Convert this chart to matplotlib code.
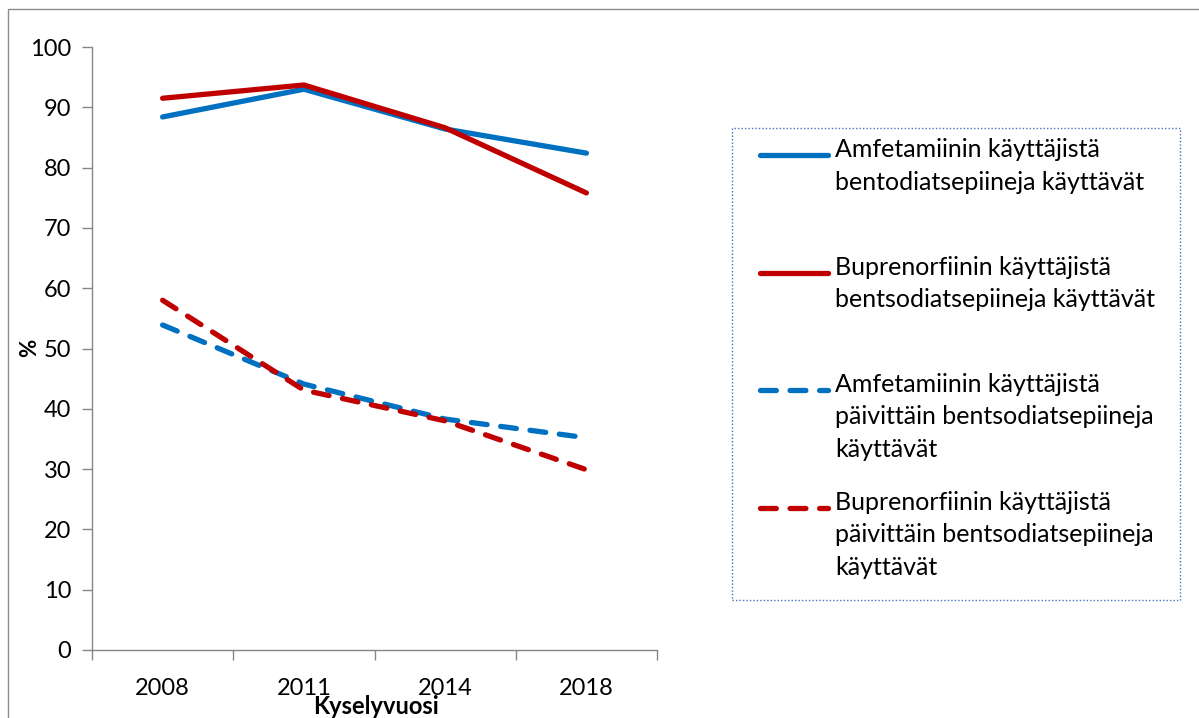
import numpy as np
import matplotlib.pyplot as plt
from matplotlib.patches import Rectangle
from matplotlib.lines import Line2D

plt.rcParams['font.family'] = ['Lato', 'DejaVu Sans']

# kyselyvuodet ja osuudet (%)
vuodet = ['2008', '2011', '2014', '2018']
amf_bentso = [88.4, 93.0, 86.4, 82.4]
bup_bentso = [91.5, 93.7, 86.6, 75.8]
amf_paivittain = [53.9, 44.1, 38.3, 35.2]
bup_paivittain = [58.0, 43.1, 38.0, 29.9]

nimet = ['Amfetamiinin käyttäjistä\nbentodiatsepiineja käyttävät',
         'Buprenorfiinin käyttäjistä\nbentsodiatsepiineja käyttävät',
         'Amfetamiinin käyttäjistä\npäivittäin bentsodiatsepiineja\nkäyttävät',
         'Buprenorfiinin käyttäjistä\npäivittäin bentsodiatsepiineja\nkäyttävät']

sininen = '#0070C0'
punainen = '#C00000'
katko = (0, (3, 2.6))

W, H = 1199, 718
fig = plt.figure(figsize=(W / 100, H / 100), dpi=100)
ax = fig.add_axes([92 / W, 1 - 650 / H, (657 - 92) / W, (650 - 47) / H])

x = np.arange(len(vuodet))
sarjat = [(amf_bentso, sininen, '-'), (bup_bentso, punainen, '-'),
          (amf_paivittain, sininen, katko), (bup_paivittain, punainen, katko)]
for arvot, vari, tyyli in sarjat:
    ax.plot(x, arvot, color=vari, linestyle=tyyli, linewidth=3.8,
            solid_capstyle='round', dash_capstyle='round')

ax.set_xlim(-0.5, len(vuodet) - 0.5)
ax.set_ylim(0, 100)
ax.set_yticks(np.arange(0, 101, 10))
ax.set_xticks(x)
ax.set_xticklabels(vuodet)
ax.set_xticks(np.arange(-0.5, len(vuodet)), minor=True)
ax.tick_params(axis='x', which='major', length=0, pad=20, labelsize=17)
ax.tick_params(axis='x', which='minor', length=7, color='#868686', width=1)
ax.tick_params(axis='y', length=7, color='#868686', width=1, labelsize=17, pad=8)
for s in ['top', 'right']:
    ax.spines[s].set_visible(False)
for s in ['left', 'bottom']:
    ax.spines[s].set_color('#868686')
    ax.spines[s].set_linewidth(1)

fig.text(30 / W, 1 - 348 / H, '%', rotation=90, fontsize=16, fontweight='bold',
         ha='center', va='center')
fig.text(376 / W, 1 - 706 / H, 'Kyselyvuosi', fontsize=17, fontweight='bold',
         ha='center', va='center')

# kuvan reunus
fig.patches.append(Rectangle((8 / W, -0.05), 1.2, 1 - 9 / H + 0.05,
                             transform=fig.transFigure, fill=False,
                             edgecolor='#8C8C8C', linewidth=1))

# selite
fig.patches.append(Rectangle((732 / W, 1 - 600 / H), (1180 - 732) / W, (600 - 128) / H,
                             transform=fig.transFigure, fill=False,
                             edgecolor='#4472C4', linewidth=1, linestyle=(0, (1, 1.5))))
rivit_y = [155, 273, 390, 508]
for (arvot, vari, tyyli), nimi, yy in zip(sarjat, nimet, rivit_y):
    fig.add_artist(Line2D([760 / W, 828 / W], [1 - yy / H] * 2, color=vari,
                          linestyle=tyyli, linewidth=3.8, solid_capstyle='round',
                          dash_capstyle='round', transform=fig.transFigure))
    fig.text(835 / W, 1 - (yy - 17) / H, nimi, fontsize=18, va='top', ha='left',
             linespacing=1.5)

fig.savefig('out.png', dpi=100)
